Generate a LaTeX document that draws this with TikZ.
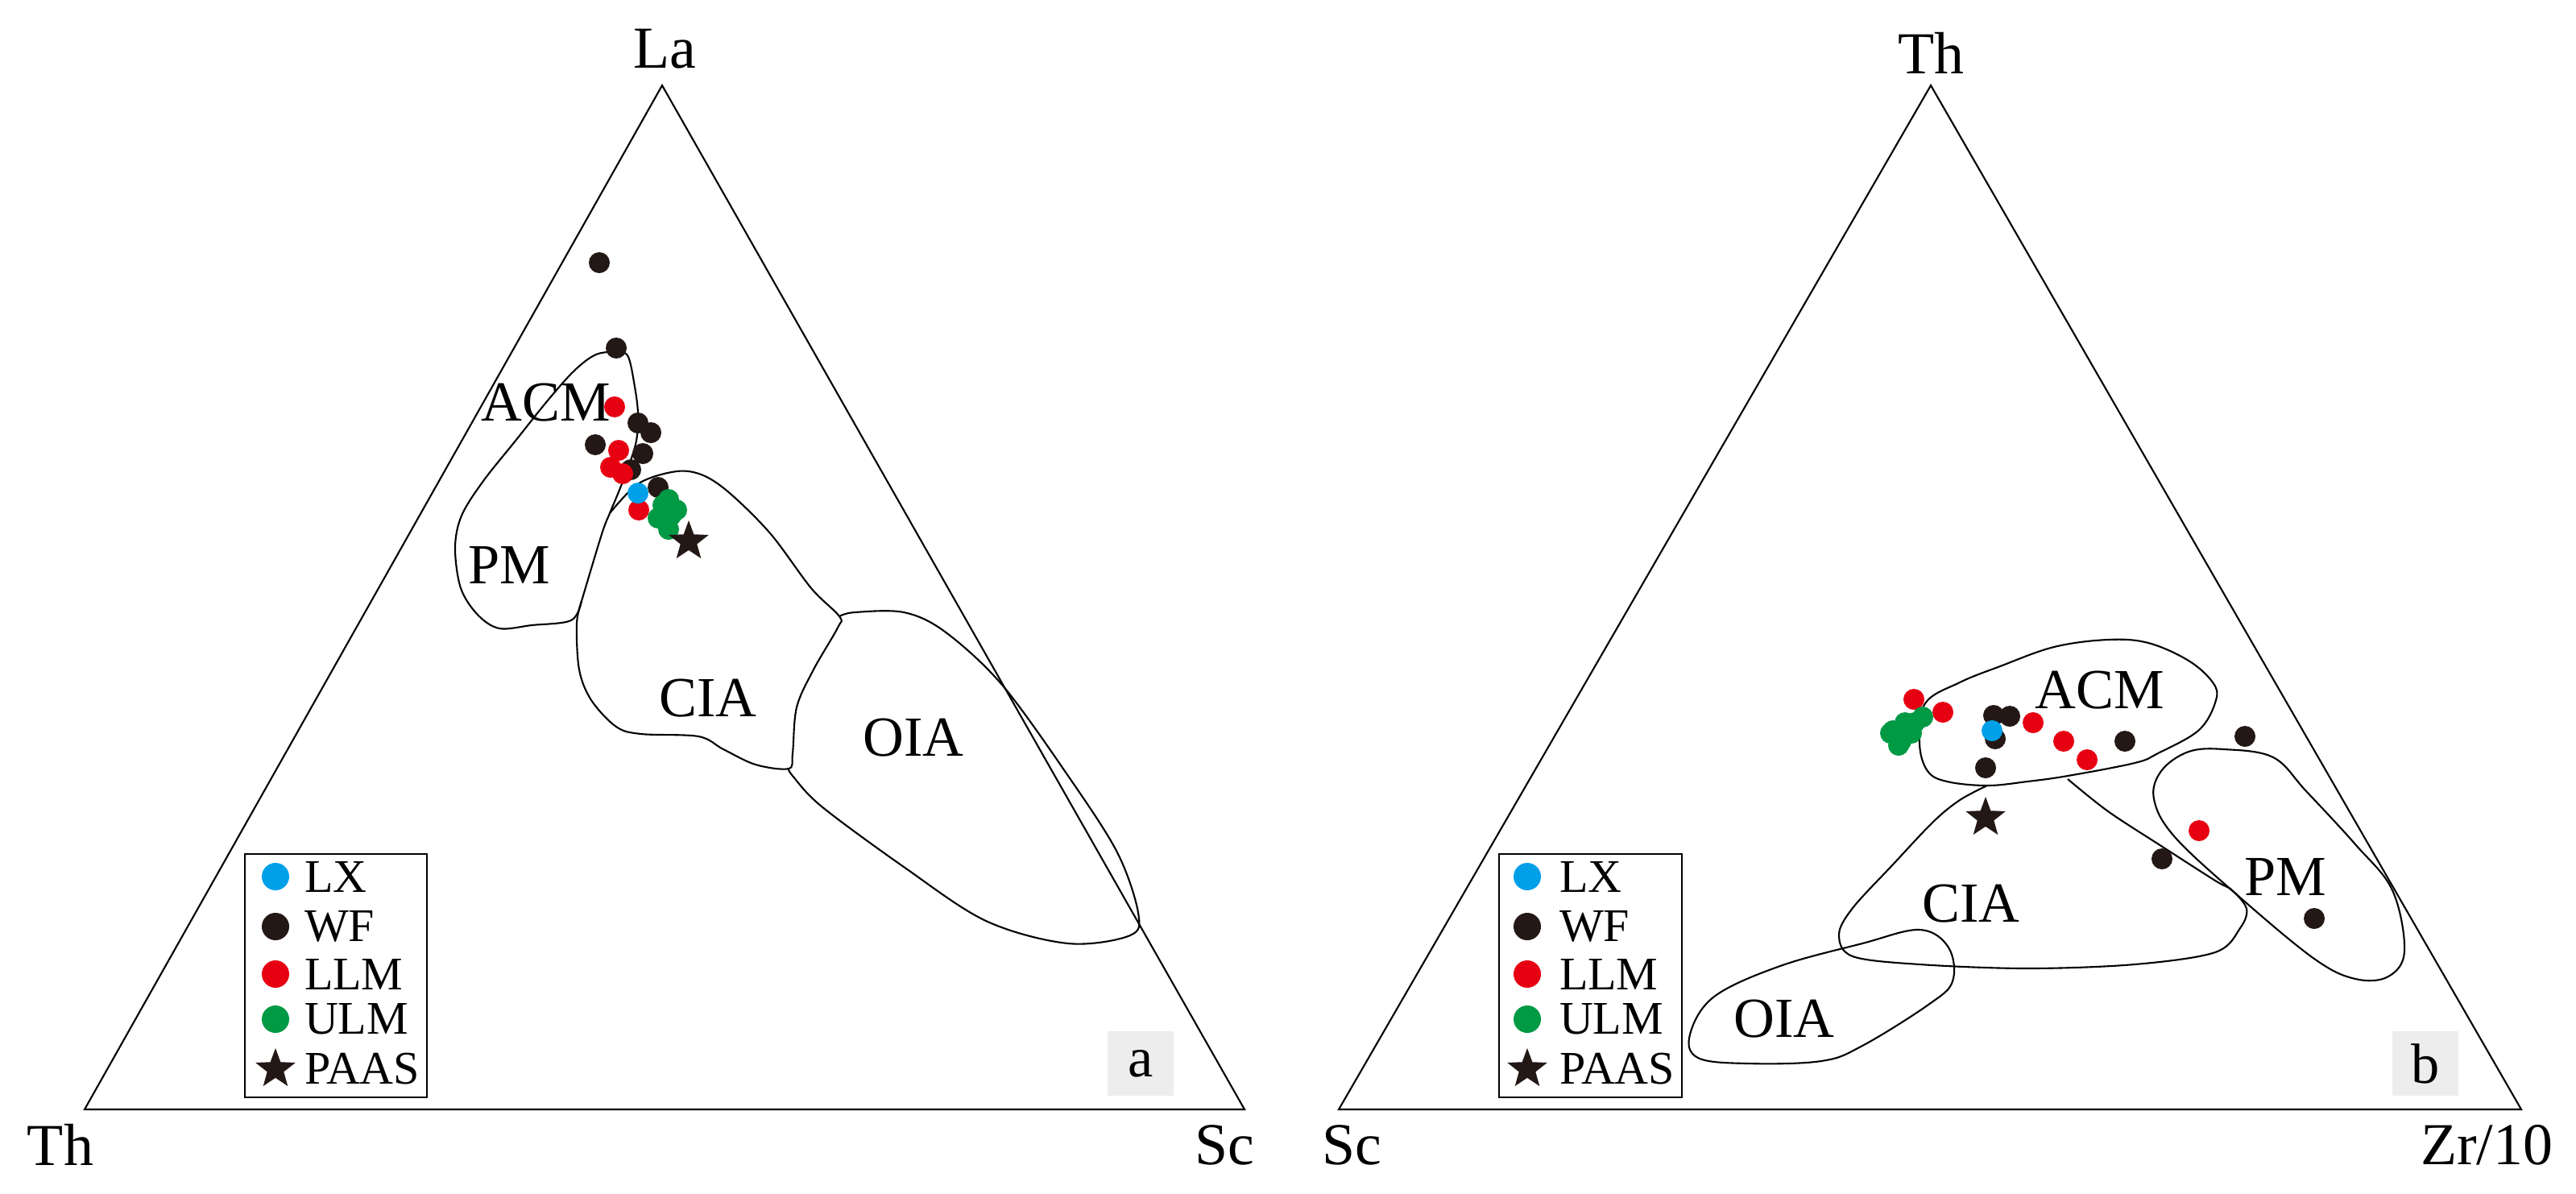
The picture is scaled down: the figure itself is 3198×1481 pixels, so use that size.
\documentclass[tikz,border=0pt]{standalone}
\usepackage{fontspec}
\setmainfont{Liberation Serif}
\usetikzlibrary{shapes.geometric}
\definecolor{lxc}{HTML}{00A0E9}
\definecolor{wfc}{HTML}{231815}
\definecolor{llmc}{HTML}{E60012}
\definecolor{ulmc}{HTML}{009944}
\tikzset{
 pt/.style={circle,inner sep=0pt,minimum size=0.26cm},
 lx/.style={pt,fill=lxc},
 wf/.style={pt,fill=wfc},
 llm/.style={pt,fill=llmc},
 ulm/.style={pt,fill=ulmc},
 paas/.style={star,star points=5,star point ratio=2.4,fill=wfc,inner sep=0pt,minimum size=0.52cm},
 field/.style={font=\fontsize{20}{24}\selectfont},
 ax/.style={font=\fontsize{21}{25}\selectfont},
 leg/.style={font=\fontsize{16.5}{20}\selectfont,anchor=west,inner sep=0pt},
 tag/.style={fill=black!7,minimum width=0.82cm,minimum height=0.8cm,font=\fontsize{20}{24}\selectfont}
}
\begin{document}
\begin{tikzpicture}[x=0.01cm,y=-0.01cm,line width=0.6pt]
\useasboundingbox (0,0) rectangle (3198,1481);
%panel a
\coordinate (aTh) at (105,1377);
\coordinate (aSc) at (1545,1377);
\coordinate (aLa) at (822,106);
\draw (aTh) -- (aSc) -- (aLa) -- cycle;
\node[ax] (laLa) at (825,61) {La};
\node[ax] (laTh) at (75,1421) {Th};
\node[ax] (laSc) at (1520,1421) {Sc};
%ACM and PM
\draw plot[smooth,tension=0.55] coordinates {(722,746) (747,663) (757,637) (767,613) (780,580) (790,547) (792,513) (788,480) (780,443) (767,437) (740,440) (713,460) (680,497) (640,547) (600,597) (573,640) (565,680) (572,730) (593,763) (620,780) (660,776) (709,770) (722,746)};
%CIA
\draw plot[smooth,tension=0.55] coordinates {(757,637) (793,600) (840,585) (873,590) (907,613) (957,663) (1007,730) (1042,765) (1040,779) (1010,831) (989,878) (984,935) (979,954) (938,949) (898,930) (867,914) (796,911) (765,902) (734,869) (719,831) (716,774) (722,746)};
%OIA
\draw plot[smooth,tension=0.55] coordinates {(1042,765) (1061,760) (1122,760) (1173,784) (1244,850) (1326,963) (1387,1058) (1413,1133) (1403,1161) (1326,1171) (1224,1143) (1122,1076) (1020,1001) (984,963) (979,954)};
\node[field] (aACM) at (678,500) {ACM};
\node[field] (aPM) at (632,701) {PM};
\node[field] (aCIA) at (879,867) {CIA};
\node[field] (aOIA) at (1134,916) {OIA};
%samples
\foreach \x/\y in {744/326,765/432,792/525,808/537,739/552,798/563,783/583,817/605}
 \node[wf] at (\x,\y) {};
\foreach \x/\y in {763/505,768/559,758/580,773/588,793/633}
 \node[llm] at (\x,\y) {};
\node[lx] at (792,612) {};
\foreach \x/\y in {823/627,833/640,830/657,817/643,830/620,840/633}
 \node[ulm] at (\x,\y) {};
\node[paas] (aPAAS) at (855,672) {};
%legend
\draw (304,1060) rectangle (530,1362);
\node[lx,minimum size=0.34cm] (aL1) at (342,1088) {};
\node[wf,minimum size=0.34cm] (aL2) at (342,1150) {};
\node[llm,minimum size=0.34cm] (aL3) at (342,1209) {};
\node[ulm,minimum size=0.34cm] (aL4) at (342,1265) {};
\node[paas] (aL5) at (342,1327) {};
\node[leg] at (377,1088) {LX};
\node[leg] at (377,1150) {WF};
\node[leg] at (377,1209) {LLM};
\node[leg] at (377,1265) {ULM};
\node[leg] at (377,1327) {PAAS};
\node[tag] (tagA) at (1416,1320) {a};
%panel b
\coordinate (bSc) at (1662,1377);
\coordinate (bZr) at (3130,1377);
\coordinate (bTh) at (2397,106);
\draw (bSc) -- (bZr) -- (bTh) -- cycle;
\node[ax] (lbTh) at (2397,66) {Th};
\node[ax] (lbSc) at (1678,1421) {Sc};
\node[ax] (lbZr) at (3087,1421) {Zr/10};
%ACM
\draw plot[smooth cycle,tension=0.6] coordinates {(2390,873) (2433,847) (2483,827) (2550,803) (2617,794) (2667,798) (2717,820) (2747,847) (2751,869) (2730,906) (2679,935) (2650,947) (2567,963) (2517,970) (2467,975) (2417,970) (2393,957) (2383,923)};
%CIA
\draw plot[smooth,tension=0.55] coordinates {(2467,975) (2433,993) (2400,1020) (2350,1073) (2300,1127) (2283,1160) (2300,1187) (2383,1197) (2517,1202) (2650,1197) (2750,1182) (2781,1152) (2789,1128) (2771,1105) (2750,1093) (2683,1050) (2617,1007) (2567,967)};
%PM
\draw plot[smooth cycle,tension=0.6] coordinates {(2761,930) (2822,940) (2863,982) (2924,1048) (2970,1105) (2985,1180) (2965,1212) (2924,1215) (2873,1190) (2781,1114) (2700,1039) (2674,992) (2683,957) (2717,933)};
%OIA
\draw plot[smooth cycle,tension=0.6] coordinates {(2098,1284) (2128,1237) (2210,1199) (2312,1171) (2383,1154) (2419,1176) (2424,1218) (2394,1247) (2312,1298) (2261,1317) (2169,1320) (2108,1313)};
\node[field] (bACM) at (2607,857) {ACM};
\node[field] (bPM) at (2837,1088) {PM};
\node[field] (bCIA) at (2447,1122) {CIA};
\node[field] (bOIA) at (2215,1265) {OIA};
%samples
\foreach \x/\y in {2475/888,2495/889,2477/917,2638/920,2465/953,2787/914,2684/1066,2873/1140}
 \node[wf] at (\x,\y) {};
\foreach \x/\y in {2376/868,2412/884,2524/897,2562/920,2591/943,2730/1031}
 \node[llm] at (\x,\y) {};
\node[lx] at (2473,907) {};
\foreach \x/\y in {2350/907,2360/920,2373/910,2387/890,2377/897,2365/897,2347/910,2357/925}
 \node[ulm] at (\x,\y) {};
\node[paas] (bPAAS) at (2465,1015) {};
%legend
\draw (1861,1060) rectangle (2088,1362);
\node[lx,minimum size=0.34cm] (bL1) at (1896,1088) {};
\node[wf,minimum size=0.34cm] (bL2) at (1896,1150) {};
\node[llm,minimum size=0.34cm] (bL3) at (1896,1209) {};
\node[ulm,minimum size=0.34cm] (bL4) at (1896,1265) {};
\node[paas] (bL5) at (1896,1327) {};
\node[leg] at (1935,1088) {LX};
\node[leg] at (1935,1150) {WF};
\node[leg] at (1935,1209) {LLM};
\node[leg] at (1935,1265) {ULM};
\node[leg] at (1935,1327) {PAAS};
\node[tag] (tagB) at (3011,1320) {b};
\end{tikzpicture}
\end{document}
